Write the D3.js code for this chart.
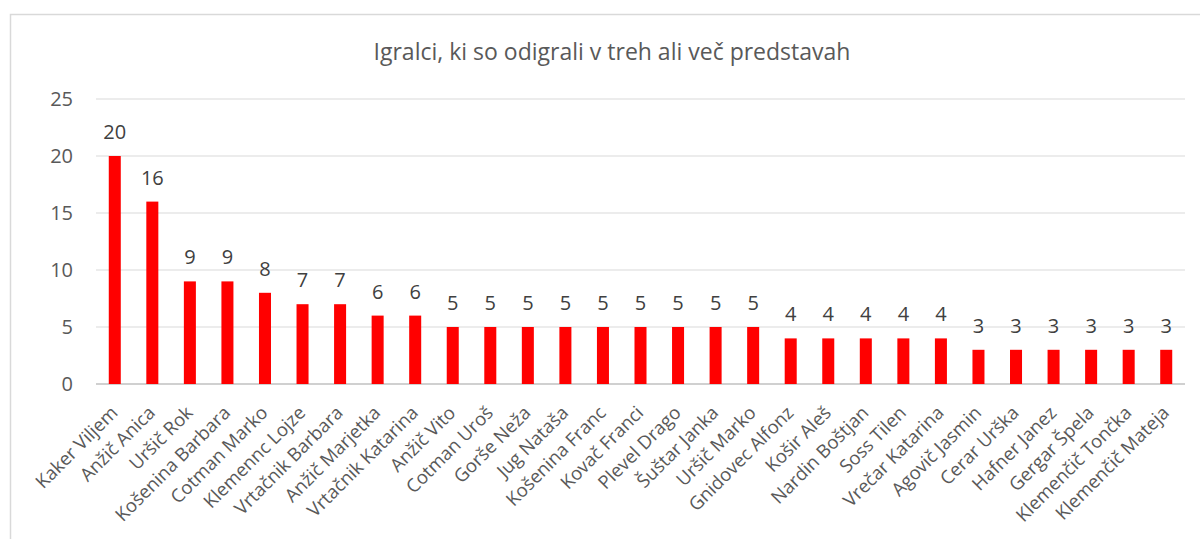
<!DOCTYPE html>
<html>
<head>
<meta charset="utf-8">
<script src="https://cdn.jsdelivr.net/npm/d3@7"></script>
<style>
  body { margin: 0; background: #fff; }
  svg { font-family: "Open Sans", sans-serif; }
</style>
</head>
<body>
<div class="chart"></div>
<script>
const names = ["Kaker Viljem", "Anžič Anica", "Uršič Rok", "Košenina Barbara", "Cotman Marko",
  "Klemennc Lojze", "Vrtačnik Barbara", "Anžič Marjetka", "Vrtačnik Katarina", "Anžič Vito",
  "Cotman Uroš", "Gorše Neža", "Jug Nataša", "Košenina Franc", "Kovač Franci", "Plevel Drago",
  "Šuštar Janka", "Uršič Marko", "Gnidovec Alfonz", "Košir Aleš", "Nardin Boštjan", "Soss Tilen",
  "Vrečar Katarina", "Agovič Jasmin", "Cerar Urška", "Hafner Janez", "Gergar Špela",
  "Klemenčič Tončka", "Klemenčič Mateja"];
const values = [20, 16, 9, 9, 8, 7, 7, 6, 6, 5, 5, 5, 5, 5, 5, 5, 5, 5, 4, 4, 4, 4, 4, 3, 3, 3, 3, 3, 3];
const yTicks = [0, 5, 10, 15, 20, 25];
const title = "Igralci, ki so odigrali v treh ali več predstavah";

const w = 1200, h = 539;
const margin = {left: 96, right: 15, top: 99, bottom: 155};

const data = names.map((n, i) => ({name: n, value: values[i]}));

const svg = d3.select(".chart").append("svg")
  .attr("width", w).attr("height", h);

// chart frame
svg.append("rect")
  .attr("x", 10.5).attr("y", 14.5)
  .attr("width", 1200).attr("height", 600)
  .attr("fill", "none").attr("stroke", "#d9d9d9").attr("stroke-width", 1.5);

const x = d3.scaleBand()
  .domain(data.map(d => d.name))
  .range([margin.left, w - margin.right])
  .paddingInner(0.68).paddingOuter(0.34);

const y = d3.scaleLinear()
  .domain([0, 25])
  .range([h - margin.bottom, margin.top]);

// gridlines
svg.append("g")
  .selectAll("line")
  .data(yTicks)
  .join("line")
  .attr("x1", margin.left).attr("x2", w - margin.right)
  .attr("y1", d => y(d)).attr("y2", d => y(d))
  .attr("stroke", d => d === 0 ? "#d0d0d0" : "#d9d9d9")
  .attr("stroke-width", d => d === 0 ? 2 : 1.2);

// y tick labels
const yAxis = svg.append("g")
  .attr("transform", `translate(${margin.left - 23},0)`)
  .call(d3.axisLeft(y).tickValues(yTicks).tickSize(0).tickPadding(0));
yAxis.select(".domain").remove();
yAxis.selectAll("text")
  .attr("fill", "#595959")
  .style("font-size", "20px")
  .style("font-family", "'Open Sans', sans-serif");

// bars
svg.append("g")
  .selectAll("rect")
  .data(data)
  .join("rect")
  .attr("x", d => x(d.name))
  .attr("y", d => y(d.value))
  .attr("width", x.bandwidth())
  .attr("height", d => y(0) - y(d.value))
  .attr("fill", "#ff0000");

// value labels
svg.append("g")
  .selectAll("text")
  .data(data)
  .join("text")
  .attr("x", d => x(d.name) + x.bandwidth() / 2)
  .attr("y", d => y(d.value) - 17)
  .attr("text-anchor", "middle")
  .attr("fill", "#404040")
  .style("font-size", "20px")
  .text(d => d.value);

// category labels
const xAxis = svg.append("g")
  .attr("transform", `translate(0,${y(0)})`)
  .call(d3.axisBottom(x).tickSize(0).tickPadding(0));
xAxis.select(".domain").remove();
xAxis.selectAll("text")
  .attr("fill", "#595959")
  .style("font-size", "18.5px")
  .style("font-family", "'Open Sans', sans-serif")
  .attr("text-anchor", "end")
  .attr("dy", null)
  .attr("y", 0)
  .attr("transform", "translate(4,30) rotate(-45)");

// title
svg.append("text")
  .attr("x", 612)
  .attr("y", 60)
  .attr("text-anchor", "middle")
  .attr("fill", "#595959")
  .style("font-size", "23px")
  .text(title);
</script>
</body>
</html>
